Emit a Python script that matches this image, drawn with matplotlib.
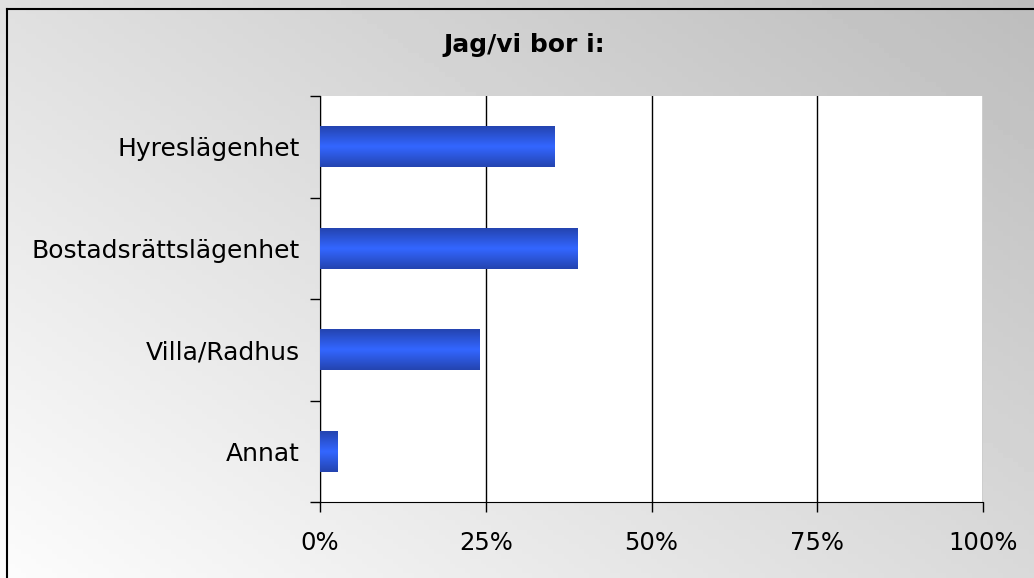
import numpy as np
import matplotlib
matplotlib.use('Agg')
import matplotlib.pyplot as plt
from matplotlib.lines import Line2D
from matplotlib.ticker import FuncFormatter

# Données
categories = ['Hyreslägenhet', 'Bostadsrättslägenhet', 'Villa/Radhus', 'Annat']
valeurs = [35.3, 38.9, 24.0, 2.7]
ticks_x = [0, 25, 50, 75, 100]

plt.rcParams['font.family'] = ['DejaVu Sans']

fig = plt.figure(figsize=(10.34, 5.78), dpi=100)

# Fond dégradé (blanc en bas à gauche, gris en haut à droite)
bg = fig.add_axes([0, 0, 1, 1], zorder=0)
xx, yy = np.meshgrid(np.linspace(0, 1, 200), np.linspace(0, 1, 120))
t = np.clip((xx * 0.55 + (1 - yy) * 0.45), 0, 1)
bg.imshow(t, cmap=plt.cm.gray_r, vmin=-0.05, vmax=4.0, aspect='auto',
          extent=[0, 1, 0, 1], origin='upper')
bg.set_axis_off()

# Cadre
fig.add_artist(Line2D([7 / 1034, 7 / 1034], [0, 1 - 9 / 578], color='black', lw=1.5))
fig.add_artist(Line2D([7 / 1034, 1], [1 - 9 / 578, 1 - 9 / 578], color='black', lw=1.5))

ax = fig.add_axes([320 / 1034, 1 - 502 / 578, 663 / 1034, 406 / 578], zorder=1)
ax.set_facecolor('white')

y = np.arange(len(categories))[::-1]
hauteur = 0.4
barres = ax.barh(y, valeurs, height=hauteur, color='#3366ff', zorder=3)

# Dégradé vertical des barres
grad = np.concatenate([np.linspace(0, 1, 50), np.linspace(1, 0, 50)]).reshape(-1, 1)
cmap_barre = matplotlib.colors.LinearSegmentedColormap.from_list('b', ['#2444b0', '#3366ff'])
for b in barres:
    x0, y0, w, h = b.get_x(), b.get_y(), b.get_width(), b.get_height()
    im = ax.imshow(grad, cmap=cmap_barre, aspect='auto', extent=[x0, x0 + w, y0, y0 + h],
                   zorder=4, interpolation='bilinear')
    im.set_clip_path(b)

ax.set_xlim(0, 100)
ax.set_ylim(-0.5, len(categories) - 0.5)
ax.set_xticks(ticks_x)
ax.xaxis.set_major_formatter(FuncFormatter(lambda v, p: f'{v:.0f}%'))
ax.set_yticks(y)
ax.set_yticklabels(categories)
ax.set_yticks(np.arange(len(categories) + 1) - 0.5, minor=True)
ax.tick_params(axis='y', which='major', length=0, pad=14.5, labelsize=18)
ax.tick_params(axis='y', which='minor', length=7, width=1, direction='out')
ax.tick_params(axis='x', length=7, width=1, direction='out', labelsize=17.5, pad=14)
ax.grid(axis='x', color='black', lw=1, zorder=1)
ax.spines['top'].set_visible(False)
ax.spines['right'].set_visible(False)
ax.set_aspect('auto')

fig.text(0.507, 1 - 45 / 578, 'Jag/vi bor i:', ha='center', va='center',
         fontsize=18, fontweight='bold')

fig.savefig('out.png', dpi=100)
